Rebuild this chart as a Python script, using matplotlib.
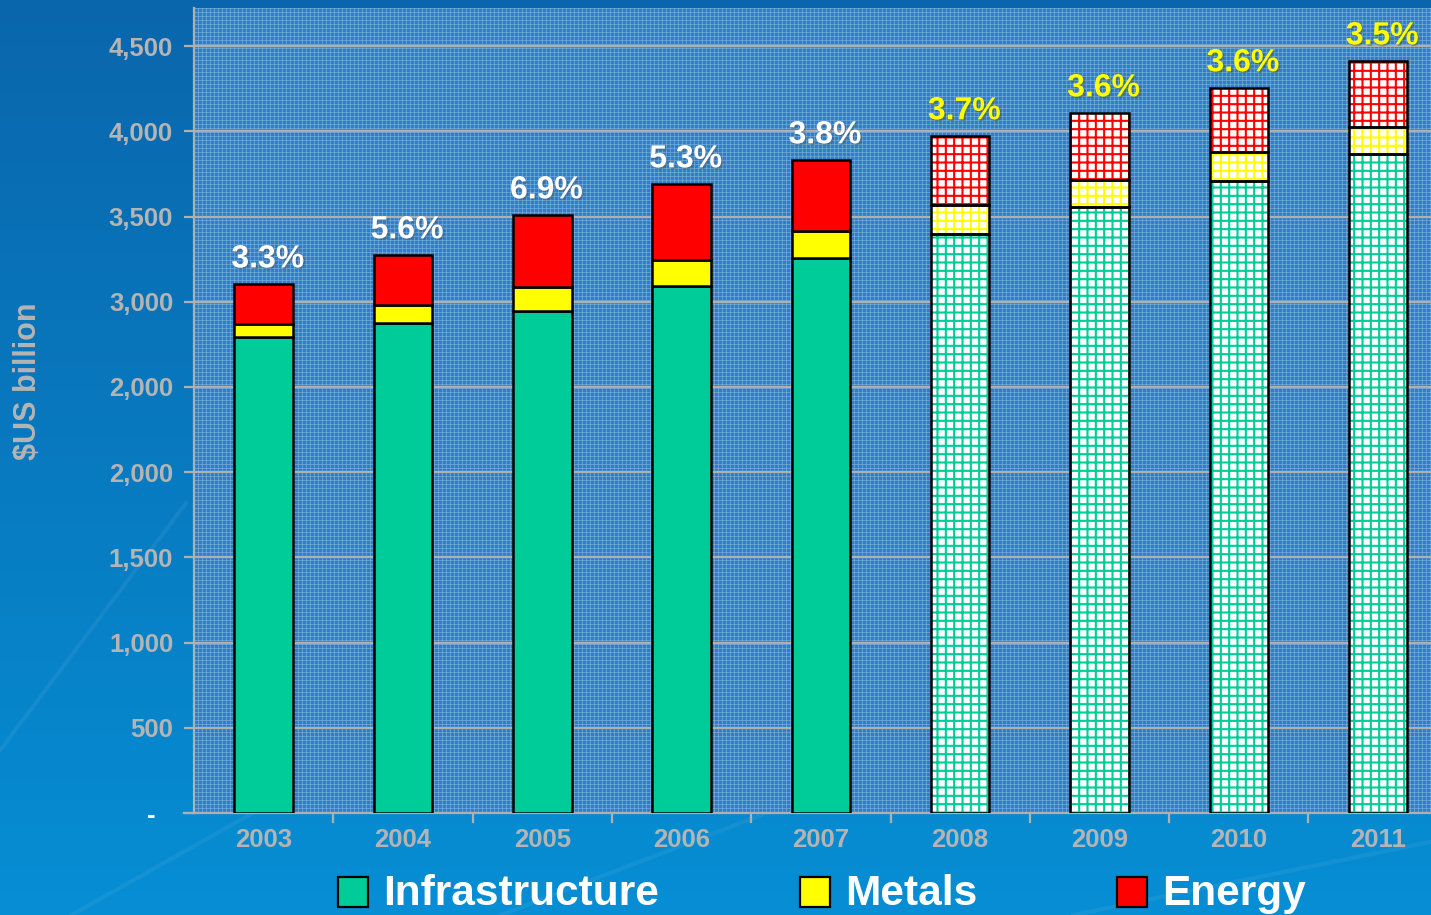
import numpy as np
import matplotlib.pyplot as plt
import matplotlib.patheffects as pe
from matplotlib.patches import Rectangle

plt.rcParams['font.family'] = ['Liberation Sans', 'DejaVu Sans']
plt.rcParams['font.weight'] = 'bold'
plt.rcParams['hatch.linewidth'] = 1.5

years = ['2003', '2004', '2005', '2006', '2007', '2008', '2009', '2010', '2011']
infrastructure = [2793, 2876, 2946, 3093, 3257, 3398, 3556, 3709, 3867]
metals = [77, 105, 141, 152, 158, 170, 159, 170, 159]
energy = [234, 294, 422, 446, 417, 405, 393, 376, 387]
growth = ['3.3%', '5.6%', '6.9%', '5.3%', '3.8%', '3.7%', '3.6%', '3.6%', '3.5%']
forecast = [False, False, False, False, False, True, True, True, True]

ytick_vals = [0, 500, 1000, 1500, 2000, 2500, 3000, 3500, 4000, 4500]
ytick_labels = ['-', '500', '1,000', '1,500', '2,000', '2,000', '3,000', '3,500', '4,000', '4,500']

series = [('Infrastructure', infrastructure, '#00cc99'),
          ('Metals', metals, '#ffff00'),
          ('Energy', energy, '#ff0000')]

W, H = 1431, 915
fig = plt.figure(figsize=(W / 100, H / 100), dpi=100)

# slide background: blue vertical gradient with a few faint streaks
bg = fig.add_axes([0, 0, 1, 1], zorder=-2)
t = np.linspace(0, 1, 300)[:, None] * np.ones((1, 10))
top = np.array([10, 102, 172]) / 255
bot = np.array([6, 142, 212]) / 255
grad = top[None, None, :] * (1 - t[..., None]) + bot[None, None, :] * t[..., None]
bg.imshow(grad, aspect='auto', extent=[0, 1, 0, 1], origin='upper')
for x0, y0, x1, y1 in [(0.0, 0.18, 0.13, 0.45), (0.05, 0.0, 0.3, 0.22),
                       (0.35, 0.0, 0.55, 0.12), (0.75, 0.0, 1.0, 0.08)]:
    bg.plot([x0, x1], [y0, y1], color='white', alpha=0.06, lw=3)
bg.set_xlim(0, 1)
bg.set_ylim(0, 1)
bg.axis('off')

pos = [194 / W, 1 - 813 / H, 1237 / W, 805 / H]

# plot area texture: fine light grid over mid blue
tex_ax = fig.add_axes(pos, zorder=-1)
nr, nc = 805, 1237
base = np.array([50, 125, 195]) / 255
light = np.array([140, 188, 228]) / 255
tex = np.ones((nr, nc, 3)) * base
rr = np.arange(nr) % 4 == 0
cc = np.arange(nc) % 4 == 0
tex[rr, :, :] = 0.5 * light + 0.5 * base
tex[:, cc, :] = 0.5 * light + 0.5 * tex[:, cc, :]
tex_ax.imshow(tex, aspect='auto', interpolation='nearest')
tex_ax.axis('off')

ax = fig.add_axes(pos)
ax.patch.set_alpha(0)

x = np.arange(len(years))
width = 0.42
bottom = np.zeros(len(years))
for name, vals, color in series:
    vals = np.array(vals, dtype=float)
    for i in range(len(years)):
        if forecast[i]:
            ax.bar(x[i], vals[i], width, bottom=bottom[i], facecolor='white',
                   edgecolor=color, hatch='++', linewidth=0, zorder=3)
            ax.bar(x[i], vals[i], width, bottom=bottom[i], fill=False,
                   edgecolor='black', linewidth=1.8, zorder=4)
        else:
            ax.bar(x[i], vals[i], width, bottom=bottom[i], color=color,
                   edgecolor='black', linewidth=1.8, zorder=3)
    bottom += vals

# growth rate labels above each stack
for i, label in enumerate(growth):
    col = '#ffff00' if forecast[i] else 'white'
    ax.annotate(label, (x[i], bottom[i]), xytext=(3, 12), textcoords='offset points',
                ha='center', va='baseline', fontsize=23, fontweight='bold', color=col,
                zorder=5,
                path_effects=[pe.SimplePatchShadow(offset=(1.2, -1.2), alpha=0.35),
                              pe.Normal()])

ax.set_xlim(-0.5, 8.38)
ax.set_ylim(0, 4724)

ax.yaxis.grid(True, color='#b0b0b0', linewidth=1.6, zorder=1)
ax.set_axisbelow(True)
ax.set_yticks(ytick_vals)
ax.set_yticklabels(ytick_labels)
ax.tick_params(axis='y', length=7, width=1.6, color='#b0b0b0', labelsize=18.5,
               labelcolor='#b4b4b4', pad=8)
zero_lbl = ax.get_yticklabels()[0]
zero_lbl.set_color('white')
zero_lbl.set_x(-0.014)

ax.set_xticks(x)
ax.set_xticklabels(years)
ax.set_xticks(x[:-1] + 0.5, minor=True)
ax.tick_params(axis='x', which='major', length=0, labelsize=18.5, labelcolor='#b4b4b4', pad=11)
ax.tick_params(axis='x', which='minor', length=7, width=1.6, color='#b0b0b0')

for side in ['top', 'right']:
    ax.spines[side].set_visible(False)
for side in ['left', 'bottom']:
    ax.spines[side].set_color('#b0b0b0')
    ax.spines[side].set_linewidth(1.6)
ax.plot([-0.5 - 10 / 139.3, -0.5], [0, 0], color='#b0b0b0', lw=1.6, clip_on=False, zorder=2)

fig.text(28 / W, 1 - 381 / H, r'\$US billion', rotation=90, ha='center', va='center',
         fontsize=22, fontweight='bold', color='#b4b4b4')

# legend along the bottom
legend_x = [338, 800, 1117]
for (name, vals, color), lx in zip(series, legend_x):
    fig.add_artist(Rectangle((lx / W, 1 - 907 / H), 30 / W, 30 / H, facecolor=color,
                             edgecolor='black', linewidth=1.6, transform=fig.transFigure))
    fig.text((lx + 45) / W, 1 - 905 / H, name, ha='left', va='baseline',
             fontsize=30.5, fontweight='bold', color='white')

fig.savefig('out.png', dpi=100)
